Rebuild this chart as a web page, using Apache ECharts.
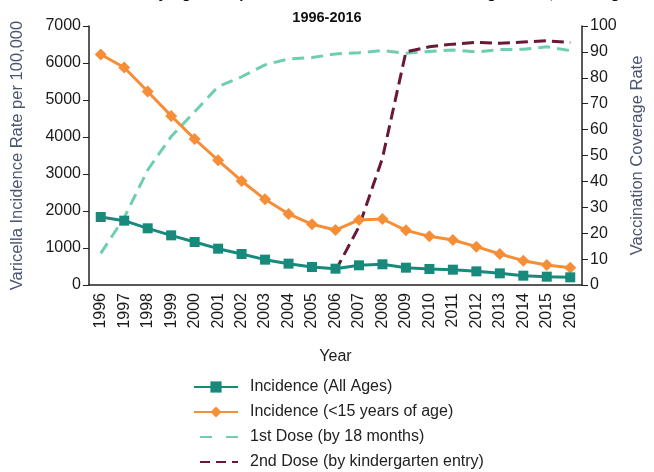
<!DOCTYPE html>
<html><head><meta charset="utf-8">
<script src="https://cdn.jsdelivr.net/npm/echarts@6/dist/echarts.min.js"></script>
<style>html,body{margin:0;padding:0;background:#fff}#c{width:654px;height:472px}</style>
</head><body><div id="c"></div>
<script>
const years = ['1996','1997','1998','1999','2000','2001','2002','2003','2004','2005','2006','2007','2008','2009','2010','2011','2012','2013','2014','2015','2016'];
const incidenceAll = [1838,1739,1532,1342,1162,982,838,685,577,486,441,532,559,468,432,414,369,315,252,225,207];
const incidenceUnder15 = [6230,5880,5230,4570,3946,3369,2811,2315,1919,1640,1486,1757,1784,1477,1315,1216,1036,838,658,540,468];
const dose1 = [12.2,26,44.4,57.3,66.9,76.6,80.4,85,87.3,87.8,89.2,89.7,90.5,89.5,90.2,90.7,90,90.9,91,92,90.5];
const dose2 = [null,null,null,null,null,null,null,null,null,null,5.5,22.5,49,90,92,93,93.7,93.3,93.8,94.3,93.6];
const leftTicks = {min:0,max:7000,interval:1000};
const rightTicks = {min:0,max:100,interval:10};

const FONT = 'Liberation Sans, Arial, sans-serif';
const chart = echarts.init(document.getElementById('c'));
const axisTxt = {color:'#1a1a1a',fontSize:16,fontFamily:FONT};
chart.setOption({
  animation:false,
  title:[
    {text:'Varicella Incidence by Age Group and Varicella Vaccination Coverage Rates, Washington',left:'center',top:-19,textStyle:{fontSize:15,fontWeight:'bold',color:'#111',fontFamily:FONT}},
    {text:'1996-2016',left:'center',top:5,textStyle:{fontSize:14.5,fontWeight:'bold',color:'#111',fontFamily:FONT}}
  ],
  grid:{left:89,right:72,top:26,height:259},
  legend:{orient:'vertical',left:193,top:379,padding:0,itemGap:9,itemWidth:44,itemHeight:14,
    textStyle:{fontSize:16,lineHeight:16,color:'#222',fontFamily:FONT,padding:[0,0,0,7]},
    data:[
      {name:'Incidence (All Ages)'},
      {name:'Incidence (<15 years of age)'},
      {name:'1st Dose (by 18 months)',itemStyle:{opacity:0},lineStyle:{type:[12,14],dashOffset:-6}},
      {name:'2nd Dose (by kindergarten entry)',itemStyle:{opacity:0},lineStyle:{type:[10,6]}}
    ]},
  xAxis:{type:'category',data:years,boundaryGap:true,
    name:'Year',nameLocation:'middle',nameGap:64,nameTextStyle:{fontSize:16,color:'#1a1a1a',fontFamily:FONT},
    axisLine:{lineStyle:{color:'#222',width:1.5}},axisTick:{length:6,lineStyle:{color:'#222'}},
    axisLabel:Object.assign({rotate:90,margin:8,interval:0},axisTxt)},
  yAxis:[
    {type:'value',min:leftTicks.min,max:leftTicks.max,interval:leftTicks.interval,
     name:'Varicella Incidence Rate per 100,000',nameLocation:'middle',nameGap:63,
     nameTextStyle:{fontSize:16.5,color:'#4a5670',fontFamily:FONT},
     axisLine:{show:true,lineStyle:{color:'#222',width:1.5}},axisTick:{show:true,length:6,lineStyle:{color:'#222'}},
     splitLine:{show:false},axisLabel:Object.assign({formatter:v=>String(v)},axisTxt)},
    {type:'value',min:rightTicks.min,max:rightTicks.max,interval:rightTicks.interval,position:'right',
     name:'Vaccination Coverage Rate',nameLocation:'middle',nameGap:47,nameRotate:90,
     nameTextStyle:{fontSize:16.5,color:'#4a5670',fontFamily:FONT},
     axisLine:{show:true,lineStyle:{color:'#222',width:1.5}},axisTick:{show:true,length:6,lineStyle:{color:'#222'}},
     splitLine:{show:false},axisLabel:Object.assign({formatter:v=>String(v)},axisTxt)}
  ],
  series:[
    {name:'Incidence (All Ages)',type:'line',yAxisIndex:0,data:incidenceAll,symbol:'rect',symbolSize:10,
     lineStyle:{color:'#178a7c',width:3},itemStyle:{color:'#178a7c'},z:4},
    {name:'Incidence (<15 years of age)',type:'line',yAxisIndex:0,data:incidenceUnder15,symbol:'diamond',symbolSize:12,
     lineStyle:{color:'#f68d37',width:3},itemStyle:{color:'#f68d37'},z:3},
    {name:'1st Dose (by 18 months)',type:'line',yAxisIndex:1,data:dose1,symbol:'none',
     lineStyle:{color:'#6fcdb1',width:3,type:[12,7]},itemStyle:{color:'#6fcdb1'},z:2},
    {name:'2nd Dose (by kindergarten entry)',type:'line',yAxisIndex:1,data:dose2,symbol:'none',
     lineStyle:{color:'#6a1838',width:3,type:[12,6]},itemStyle:{color:'#6a1838'},z:2}
  ]
});
</script></body></html>
